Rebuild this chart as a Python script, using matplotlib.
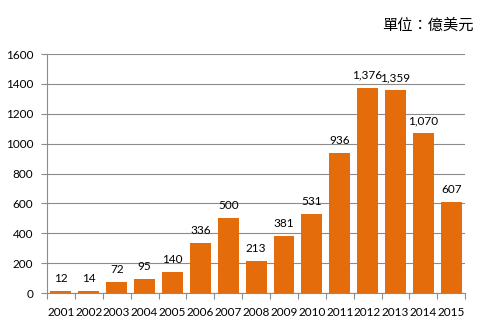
import matplotlib
matplotlib.use("Agg")
import matplotlib.pyplot as plt
import numpy as np

years = [str(y) for y in range(2001, 2016)]
values = [12, 14, 72, 95, 140, 336, 500, 213, 381, 531, 936, 1376, 1359, 1070, 607]
y_ticks = [0, 200, 400, 600, 800, 1000, 1200, 1400, 1600]
unit_label = "單位：億美元"

plt.rcParams["font.family"] = ["Lato", "Noto Sans CJK TC", "DejaVu Sans"]

fig = plt.figure(figsize=(4.92, 3.26), dpi=100)
ax = fig.add_axes([0.0955, 0.1012, 0.85, 0.733])

x = np.arange(len(years))
bars = ax.bar(x, values, width=0.75, color="#E46C0A", zorder=2)

for xi, v in zip(x, values):
    ax.annotate(f"{v:,}", (xi, v), textcoords="offset points", xytext=(0, 5),
                ha="center", va="bottom", fontsize=8.5)

ax.set_xlim(-0.5, len(years) - 0.5)
ax.set_ylim(0, 1600)
ax.set_yticks(y_ticks)
ax.set_yticklabels([str(t) for t in y_ticks], fontsize=8.5)
ax.yaxis.grid(True, color="#8c8c8c", linewidth=0.8, zorder=0)

# category labels sit between boundary tick marks
ax.set_xticks(np.arange(-0.5, len(years), 1.0))
ax.set_xticklabels([])
ax.set_xticks(x, minor=True)
ax.set_xticklabels(years, minor=True, fontsize=8.5)
ax.tick_params(axis="x", which="major", length=4, color="#8c8c8c")
ax.tick_params(axis="x", which="minor", length=0, pad=10)
ax.tick_params(axis="y", length=4, color="#8c8c8c", pad=6)

for side in ["top", "right"]:
    ax.spines[side].set_visible(False)
for side in ["left", "bottom"]:
    ax.spines[side].set_color("#8c8c8c")

fig.text(0.963, 0.923, unit_label, ha="right", va="center", fontsize=11,
         family=["Noto Sans CJK TC", "DejaVu Sans"], weight="light")

fig.savefig("out.png", dpi=100)
